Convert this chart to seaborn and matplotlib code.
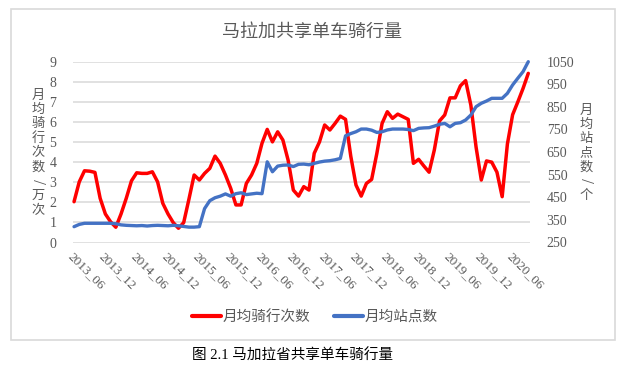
import numpy as np
import pandas as pd
import matplotlib
matplotlib.use("Agg")
import matplotlib.pyplot as plt
import seaborn as sns
from matplotlib.lines import Line2D
from matplotlib.patches import Rectangle

# ---------------- data ----------------
start_month = "2013-06"
n_months = 88
rides = [2.03, 3.02, 3.57, 3.55, 3.49, 2.20, 1.42, 1.03, 0.76, 1.42,
         2.20, 3.07, 3.47, 3.44, 3.44, 3.52, 3.02, 1.95, 1.42, 0.99,
         0.71, 0.99, 2.15, 3.36, 3.11, 3.44, 3.69, 4.30, 3.94, 3.36,
         2.70, 1.87, 1.87, 2.94, 3.36, 3.94, 4.94, 5.63, 5.01, 5.51,
         5.10, 4.10, 2.61, 2.31, 2.78, 2.61, 4.44, 5.00, 5.85, 5.60,
         5.93, 6.29, 6.13, 4.30, 2.86, 2.31, 2.94, 3.14, 4.44, 5.93,
         6.51, 6.18, 6.39, 6.26, 6.13, 3.94, 4.14, 3.81, 3.50, 4.60,
         6.05, 6.35, 7.20, 7.20, 7.80, 8.06, 6.84, 4.75, 3.11, 4.06,
         4.00, 3.50, 2.28, 4.90, 6.36, 7.00, 7.67, 8.42]
stations = [320, 330, 335, 335, 335, 335, 335, 335, 333, 328,
            326, 325, 324, 325, 323, 325, 326, 325, 324, 326,
            324, 321, 318, 318, 320, 400, 435, 448, 455, 465,
            455, 466, 470, 462, 465, 468, 466, 607, 563, 588,
            592, 593, 586, 596, 597, 594, 600, 606, 610, 612,
            616, 622, 722, 732, 740, 752, 752, 747, 737, 740,
            748, 752, 752, 752, 750, 745, 755, 757, 758, 765,
            773, 777, 762, 777, 780, 792, 814, 851, 866, 876,
            888, 888, 888, 910, 947, 977, 1006, 1050]
tick_labels = ["2013_06", "2013_12", "2014_06", "2014_12", "2015_06",
               "2015_12", "2016_06", "2016_12", "2017_06", "2017_12",
               "2018_06", "2018_12", "2019_06", "2019_12", "2020_06"]
left_ticks = [0, 1, 2, 3, 4, 5, 6, 7, 8, 9]
right_ticks = [250, 350, 450, 550, 650, 750, 850, 950, 1050]

title = "马拉加共享单车骑行量"
series_names = ["月均骑行次数", "月均站点数"]
left_label = "月均骑行次数/万次"
right_label = "月均站点数/个"
caption = "图 2.1 马加拉省共享单车骑行量"

months = pd.period_range(start_month, periods=n_months, freq="M").strftime("%Y_%m")
df = pd.DataFrame({"idx": np.arange(n_months), "month": months,
                   "rides": rides, "stations": stations})

# ---------------- style ----------------
sns.set_style("white")
plt.rcParams["font.family"] = ["Liberation Serif", "Noto Sans CJK SC", "DejaVu Sans"]
CJK = ["Noto Sans CJK SC", "DejaVu Sans"]
GRAY = "#595959"
RED = "#ff0000"
BLUE = "#4472c4"

W, H = 623, 371
fig = plt.figure(figsize=(W / 100, H / 100), dpi=100)

def fx(px):
    return px / W

def fy(py):
    return 1 - py / H

left, right, top, bottom = 73, 530, 61.7, 242.5
ax = fig.add_axes([fx(left), fy(bottom), fx(right - left), (bottom - top) / H])
ax2 = ax.twinx()

sns.lineplot(data=df, x="idx", y="rides", ax=ax, color=RED, linewidth=2.5,
             clip_on=False, legend=False)
sns.lineplot(data=df, x="idx", y="stations", ax=ax2, color=BLUE, linewidth=2.4,
             clip_on=False, legend=False)

ax.set_xlim(-0.2, n_months - 1 + 0.33)
ax.set_ylim(0, 9)
ax2.set_ylim(250, 1050)

ax.set_yticks(left_ticks)
ax.set_yticklabels([str(t) for t in left_ticks])
ax2.set_yticks(right_ticks)
ax2.set_yticklabels([str(t) for t in right_ticks])

ax.set_xticks(list(range(0, n_months, 6))[:len(tick_labels)])
ax.set_xticklabels(tick_labels, rotation=-45, ha="left", rotation_mode="anchor")

ax.grid(axis="y", color="#d9d9d9", linewidth=1.1)
ax.grid(axis="x", visible=False)
ax2.grid(False)
ax.set_axisbelow(True)
for a in (ax, ax2):
    for s in a.spines.values():
        s.set_visible(False)
    a.set_xlabel("")
    a.set_ylabel("")
    a.patch.set_alpha(0)

ax.tick_params(axis="y", length=0, pad=12, labelsize=10, labelcolor=GRAY)
ax2.tick_params(axis="y", length=0, pad=12, labelsize=10, labelcolor=GRAY)
ax.tick_params(axis="x", length=0, pad=6, labelsize=9.5, labelcolor=GRAY)

# title
fig.text(fx(312), fy(32), title, ha="center", va="center", fontsize=13,
         color=GRAY, family=CJK, fontweight="light")

# stacked vertical axis labels
def stacked(text, xc, y0, step):
    for k, ch in enumerate(text):
        rot = -90 if ch == "/" else 0
        fig.text(fx(xc), fy(y0 + k * step), ch, ha="center", va="center",
                 fontsize=9.5, color=GRAY, family=CJK, rotation=rot,
                 fontweight="light")

stacked(left_label, 38.5, 95, 14.4)
stacked(right_label, 586.5, 110, 14.2)

# legend
handles = [Line2D([0], [0], color=RED, lw=3),
           Line2D([0], [0], color=BLUE, lw=3)]
leg = fig.legend(handles, series_names, loc="center",
                 bbox_to_anchor=(fx(315), fy(317)), ncol=2, frameon=False,
                 handlelength=2.0, handletextpad=0.1, columnspacing=1.6,
                 prop={"family": CJK, "size": 10.5, "weight": "light"})
for t in leg.get_texts():
    t.set_color(GRAY)

# chart border
fig.add_artist(Rectangle((fx(11), fy(340)), fx(615 - 11), (340 - 9) / H,
                         transform=fig.transFigure, fill=False,
                         edgecolor="#d9d9d9", linewidth=1.2))

# caption
fig.text(fx(293), fy(356), caption, ha="center", va="center", fontsize=10.5,
         color="black", family=["Liberation Serif", "Noto Sans CJK SC"])

fig.savefig("out.png", dpi=100)
